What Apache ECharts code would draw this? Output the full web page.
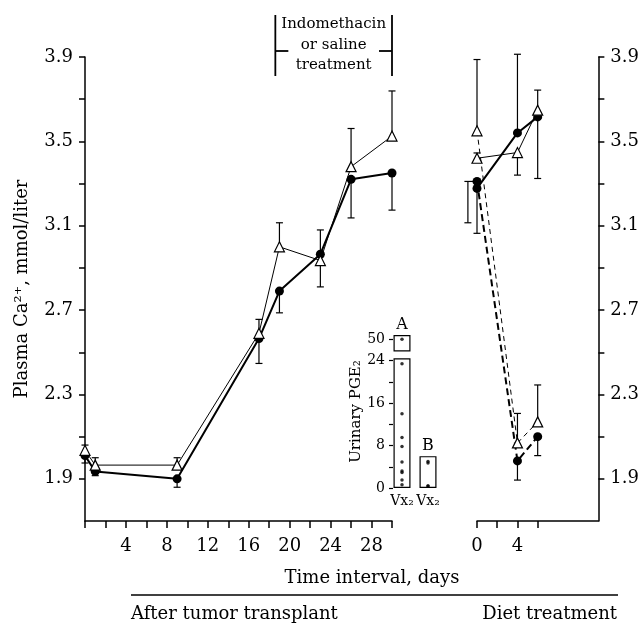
<!DOCTYPE html>
<html>
<head>
<meta charset="utf-8">
<script src="https://cdn.jsdelivr.net/npm/echarts@6/dist/echarts.min.js"></script>
<style>
  html, body { margin: 0; background: #fff; }
  #chart { width: 642px; height: 624px; }
</style>
</head>
<body>
<div id="chart"></div>
<script>
// plasma calcium, days after tumor transplant
const leftDays = [0, 1, 9, 17, 19, 23, 26, 30];
const leftCircle = [2.01, 1.935, 1.90, 2.565, 2.79, 2.965, 3.32, 3.35];
const leftCircleErr = [1.975, 1.915, 1.86, 2.447, 2.687, 3.08, 3.137, 3.174];
const leftTriangle = [2.035, 1.965, 1.965, 2.59, 3.00, 2.935, 3.38, 3.525];
const leftTriangleErr = [2.06, 2.0, 2.0, 2.656, 3.114, 2.81, 3.561, 3.739];

// diet treatment panel
const dietDays = [0, 4, 6];
const dietCircle = [3.277, 3.54, 3.616];
const dietCircleErr = [3.064, 3.913, 3.324];
const dietTriangle = [3.42, 3.447, 3.648];
const dietTriangleErr = [3.445, 3.34, 3.743];
const dietCircleDash = [3.31, 1.985, 2.10];
const dietCircleDashErr = [null, 1.894, 2.01];
const dietTriangleDash = [3.55, 2.07, 2.17];
const dietTriangleDashErr = [3.888, 2.21, 2.345];
const dietSideBar = [-0.9, 3.31, 3.114];

// inset: urinary PGE2
const pgeGroups = ['A', 'B'];
const pgeA = [50, 23.4, 14.0, 9.5, 7.8, 4.9, 3.2, 2.9, 1.5, 0.6];
const pgeB = [5.0, 4.7, 0.4, 0.4];
const boxLow = [24.4, 6];
const boxGap = [1.3, null];
const boxHigh = [3.1, null];

// ticks and labels
const yTicks = [1.9, 2.1, 2.3, 2.5, 2.7, 2.9, 3.1, 3.3, 3.5, 3.7, 3.9];
const yLabels = [1.9, 2.3, 2.7, 3.1, 3.5, 3.9];
const leftXTicks = [0, 2, 4, 6, 8, 10, 12, 14, 16, 18, 20, 22, 24, 26, 28, 30];
const leftXLabels = [4, 8, 12, 16, 20, 24, 28];
const dietXTicks = [0, 2, 4, 6];
const dietXLabels = [0, 4];
const pgeTicks = [0, 4, 8, 12, 16, 20, 24, 28];
const pgeLabels = [0, 8, 16, 24, 28];
const bracketDays = [18.6, 30];

const FONT = 'DejaVu Serif';
const chart = echarts.init(document.getElementById('chart'));

// inset axis is broken above 24: 50 sits at 28
function pgeScale(v) {
  return v > 26 ? 28 + (v - 50) * 0.1 : v;
}

function errData(days, vals, ends) {
  const out = [];
  days.forEach((d, i) => {
    if (ends[i] != null) out.push([d, vals[i], ends[i], 0]);
  });
  return out;
}

function errRender(params, api) {
  const x = api.value(0);
  const a = api.coord([x, api.value(1)]);
  const b = api.coord([x, api.value(2)]);
  const cap = 3.5;
  const st = { stroke: '#000', lineWidth: 1.2 };
  const kids = [
    { type: 'line', shape: { x1: a[0], y1: a[1], x2: b[0], y2: b[1] }, style: st },
    { type: 'line', shape: { x1: b[0] - cap, y1: b[1], x2: b[0] + cap, y2: b[1] }, style: st }
  ];
  if (api.value(3)) {
    kids.push({ type: 'line', shape: { x1: a[0] - cap, y1: a[1], x2: a[0] + 9, y2: a[1] }, style: st });
  }
  return { type: 'group', children: kids };
}

function errSeries(data, gi) {
  return {
    type: 'custom', xAxisIndex: gi, yAxisIndex: gi, z: 1,
    renderItem: errRender, encode: { x: 0, y: [1, 2] }, data: data
  };
}

function circleLine(days, vals, gi, dashed) {
  return {
    type: 'line', xAxisIndex: gi, yAxisIndex: gi, z: 3,
    data: days.map((d, i) => [d, vals[i]]),
    symbol: 'circle', symbolSize: 9,
    itemStyle: { color: '#000' },
    lineStyle: { color: '#000', width: 2, type: dashed ? [7, 4] : 'solid' }
  };
}

function triangleLine(days, vals, gi, dashed) {
  return {
    type: 'line', xAxisIndex: gi, yAxisIndex: gi, z: 4,
    data: days.map((d, i) => [d, vals[i]]),
    symbol: 'triangle', symbolSize: 10,
    itemStyle: { color: '#fff', borderColor: '#000', borderWidth: 1.2 },
    lineStyle: { color: '#000', width: 1, type: dashed ? [5, 4] : 'solid' }
  };
}

const axisLine = { onZero: false, lineStyle: { color: '#000', width: 1.5 } };
const tickStyle = { lineStyle: { color: '#000', width: 1.5 } };
const labelStyle = { color: '#000', fontFamily: FONT, fontSize: 18 };

function yAxisFor(gi, pos) {
  return {
    type: 'value', gridIndex: gi, position: pos, min: 1.7, max: 3.9,
    axisLine: Object.assign({ show: true }, axisLine),
    axisTick: Object.assign({ show: true, length: 6, customValues: yTicks }, tickStyle),
    axisLabel: Object.assign({ margin: 12, customValues: yLabels, formatter: v => v.toFixed(1) }, labelStyle),
    splitLine: { show: false }
  };
}

const option = {
  animation: false,
  backgroundColor: '#fff',
  textStyle: { fontFamily: FONT, color: '#000' },
  grid: [
    { left: 85, top: 57, width: 307, height: 464 },
    { left: 477, top: 57, width: 123, height: 464 },
    { left: 389, top: 335, width: 52, height: 153 }
  ],
  xAxis: [
    {
      type: 'value', gridIndex: 0, min: 0, max: 30,
      axisLine: axisLine,
      axisTick: Object.assign({ length: 7, customValues: leftXTicks }, tickStyle),
      axisLabel: Object.assign({ margin: 16, customValues: leftXLabels }, labelStyle),
      splitLine: { show: false }
    },
    {
      type: 'value', gridIndex: 1, min: 0, max: 12,
      axisLine: axisLine,
      axisTick: Object.assign({ length: 7, customValues: dietXTicks }, tickStyle),
      axisLabel: Object.assign({ margin: 16, customValues: dietXLabels }, labelStyle),
      splitLine: { show: false }
    },
    {
      type: 'category', gridIndex: 2, data: pgeGroups,
      axisLine: { show: false }, axisTick: { show: false },
      axisLabel: { interval: 0, margin: 6, color: '#000', fontFamily: FONT, fontSize: 14, formatter: () => 'Vx₂' }
    }
  ],
  yAxis: [
    Object.assign(yAxisFor(0, 'left'), {
      name: 'Plasma Ca²⁺, mmol/liter', nameLocation: 'middle', nameGap: 54, nameRotate: 90,
      nameTextStyle: { fontFamily: FONT, fontSize: 18, color: '#000' }
    }),
    yAxisFor(1, 'right'),
    {
      type: 'value', gridIndex: 2, min: 0, max: 28.8,
      name: 'Urinary PGE₂', nameLocation: 'middle', nameGap: 24, nameRotate: 90,
      nameTextStyle: { fontFamily: FONT, fontSize: 15, color: '#000' },
      axisLine: { show: false, onZero: false },
      axisTick: { show: true, inside: true, length: 4, customValues: pgeTicks, lineStyle: { color: '#000', width: 1.2 } },
      axisLabel: { margin: 4, customValues: pgeLabels, color: '#000', fontFamily: FONT, fontSize: 14,
        formatter: v => (v === 28 ? '50' : String(v)) },
      splitLine: { show: false }
    }
  ],
  series: [
    errSeries(errData(leftDays, leftCircle, leftCircleErr), 0),
    errSeries(errData(leftDays, leftTriangle, leftTriangleErr), 0),
    circleLine(leftDays, leftCircle, 0, false),
    triangleLine(leftDays, leftTriangle, 0, false),

    errSeries(errData(dietDays, dietCircle, dietCircleErr), 1),
    errSeries(errData(dietDays, dietTriangle, dietTriangleErr), 1),
    errSeries(errData(dietDays, dietCircleDash, dietCircleDashErr), 1),
    errSeries(errData(dietDays, dietTriangleDash, dietTriangleDashErr), 1),
    errSeries([[dietSideBar[0], dietSideBar[1], dietSideBar[2], 1]], 1),
    circleLine(dietDays, dietCircleDash, 1, true),
    triangleLine(dietDays, dietTriangleDash, 1, true),
    circleLine(dietDays, dietCircle, 1, false),
    triangleLine(dietDays, dietTriangle, 1, false),

    {
      type: 'bar', xAxisIndex: 2, yAxisIndex: 2, stack: 'box', barWidth: 17, z: 2,
      itemStyle: { color: '#fff', borderColor: '#000', borderWidth: 1.2 },
      data: boxLow.map((v, i) => i === 1
        ? { value: v, label: { show: true, position: 'top', formatter: pgeGroups[i], fontFamily: FONT, fontSize: 16, color: '#000', distance: 2 } }
        : v)
    },
    {
      type: 'bar', xAxisIndex: 2, yAxisIndex: 2, stack: 'box', barWidth: 17, z: 2,
      itemStyle: { color: 'transparent', borderWidth: 0 },
      data: boxGap
    },
    {
      type: 'bar', xAxisIndex: 2, yAxisIndex: 2, stack: 'box', barWidth: 17, z: 2,
      itemStyle: { color: '#fff', borderColor: '#000', borderWidth: 1.2 },
      data: boxHigh.map((v, i) => i === 0
        ? { value: v, label: { show: true, position: 'top', formatter: pgeGroups[i], fontFamily: FONT, fontSize: 16, color: '#000', distance: 2 } }
        : v)
    },
    {
      type: 'scatter', xAxisIndex: 2, yAxisIndex: 2, z: 5,
      symbolSize: 3.5, itemStyle: { color: '#000' },
      data: pgeA.map(v => [0, pgeScale(v)]).concat(pgeB.map(v => [1, pgeScale(v)]))
    }
  ]
};

chart.setOption(option);

// bracket for the indomethacin / saline period, placed on the day axis
const bx0 = chart.convertToPixel({ xAxisIndex: 0 }, bracketDays[0]);
const bx1 = chart.convertToPixel({ xAxisIndex: 0 }, bracketDays[1]);
const bst = { stroke: '#000', lineWidth: 1.8 };
chart.setOption({
  graphic: [
    { type: 'line', shape: { x1: bx0, y1: 15, x2: bx0, y2: 76 }, style: bst },
    { type: 'line', shape: { x1: bx1, y1: 15, x2: bx1, y2: 76 }, style: bst },
    { type: 'line', shape: { x1: bx0, y1: 51, x2: bx0 + 13, y2: 51 }, style: bst },
    { type: 'line', shape: { x1: bx1 - 13, y1: 51, x2: bx1, y2: 51 }, style: bst },
    {
      type: 'text', x: (bx0 + bx1) / 2, y: 45,
      style: { text: 'Indomethacin\nor saline\ntreatment', font: '15px "DejaVu Serif"', fill: '#000',
        align: 'center', verticalAlign: 'middle', lineHeight: 20.5 }
    },
    {
      type: 'text', x: 372, y: 578,
      style: { text: 'Time interval, days', font: '18px "DejaVu Serif"', fill: '#000', align: 'center', verticalAlign: 'middle' }
    },
    { type: 'line', shape: { x1: 131, y1: 595, x2: 618, y2: 595 }, style: { stroke: '#000', lineWidth: 1.5 } },
    {
      type: 'text', x: 131, y: 614,
      style: { text: 'After tumor transplant', font: '18px "DejaVu Serif"', fill: '#000', align: 'left', verticalAlign: 'middle' }
    },
    {
      type: 'text', x: 617, y: 614,
      style: { text: 'Diet treatment', font: '18px "DejaVu Serif"', fill: '#000', align: 'right', verticalAlign: 'middle' }
    }
  ]
});
</script>
</body>
</html>
